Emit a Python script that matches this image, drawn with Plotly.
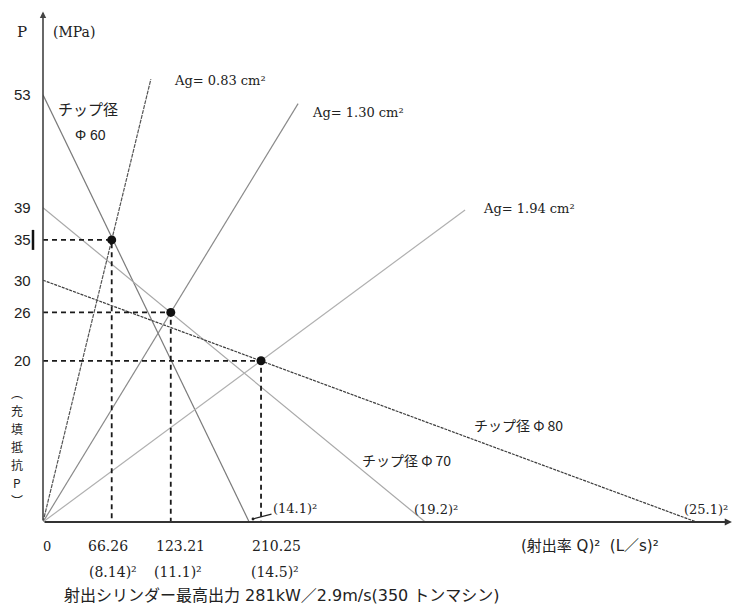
import plotly.graph_objects as go

# Filling resistance lines for each tip (plunger) diameter: P = P0 * (1 - Q^2 / Qmax^2)
tip_diameters = [60, 70, 80]
tip_p0 = [53, 39, 30]                 # MPa at Q = 0
tip_qmax_root = [14.1, 19.2, 25.1]    # Q at P = 0 (L/s)

# Gate-area lines through the origin and their operating points
gate_areas = [0.83, 1.30, 1.94]       # cm^2
op_q2 = [66.26, 123.21, 210.25]       # (L/s)^2
op_q_root = [8.14, 11.1, 14.5]
op_p = [35, 26, 20]                   # MPa
gate_line_end_q2 = [104, 246, 407]    # how far each gate line is drawn

y_tick_vals = [53, 39, 35, 30, 26, 20]

# Pixel geometry of the drawing
W, H = 741, 607
ML, MR, MT, MB = 43, 8, 10, 85
PW, PH = W - ML - MR, H - MT - MB
XS = 1.037   # px per (L/s)^2
YS = 8.06    # px per MPa
x_max = PW / XS
y_max = PH / YS


def paper(px, py):
    """Pixel position on the page -> paper coordinates."""
    return (px - ML) / PW, (H - MB - py) / PH


def py_of_p(p):
    return H - MB - p * YS


SERIF = "DejaVu Serif"
SANS = "Liberation Sans"
JP = "Noto Sans CJK JP"
MIXED = "DejaVu Sans, Noto Sans CJK JP"
INK = "#222222"

fig = go.Figure()

tip_styles = [
    dict(color="#7a7a7a", width=1.2),
    dict(color="#a8a8a8", width=1.2),
    dict(color="#3c3c3c", width=1.2, dash="3px,1px"),
]
for d, p0, qr, st in zip(tip_diameters, tip_p0, tip_qmax_root, tip_styles):
    fig.add_trace(go.Scatter(x=[0, qr ** 2], y=[p0, 0], mode="lines",
                             line=st, hoverinfo="skip", showlegend=False))

gate_styles = [
    dict(color="#555555", width=1.2, dash="4px,1px"),
    dict(color="#8a8a8a", width=1.2),
    dict(color="#b0b0b0", width=1.2),
]
for q2, p, xe, st in zip(op_q2, op_p, gate_line_end_q2, gate_styles):
    slope = p / q2
    fig.add_trace(go.Scatter(x=[0, xe], y=[0, slope * xe], mode="lines",
                             line=st, hoverinfo="skip", showlegend=False))

# dashed guides from the operating points to both axes
for q2, p in zip(op_q2, op_p):
    fig.add_trace(go.Scatter(x=[0, q2, q2], y=[p, p, 0], mode="lines",
                             line=dict(color="#1a1a1a", width=1.8, dash="5px,4px"),
                             hoverinfo="skip", showlegend=False))

fig.add_trace(go.Scatter(x=op_q2, y=op_p, mode="markers",
                         marker=dict(color="#111111", size=9),
                         hoverinfo="skip", showlegend=False))

ann = []

# axes drawn as arrows
ann.append(dict(x=0, y=y_max - 0.2, ax=0, ay=0, xref="x", yref="y", axref="x", ayref="y",
                showarrow=True, arrowhead=2, arrowsize=0.8, arrowwidth=1.6,
                arrowcolor="#444444", text=""))
ann.append(dict(x=x_max - 1, y=0, ax=0, ay=0, xref="x", yref="y", axref="x", ayref="y",
                showarrow=True, arrowhead=2, arrowsize=0.8, arrowwidth=1.8,
                arrowcolor="#333333", text=""))


def label(text, px, py, size=14, family=SERIF, xanchor="center", color=INK):
    x, y = paper(px, py)
    ann.append(dict(x=x, y=y, xref="paper", yref="paper", text=text, showarrow=False,
                    xanchor=xanchor, yanchor="middle",
                    font=dict(family=family, size=size, color=color)))


# y tick labels
for v in y_tick_vals:
    label(str(v), 22, py_of_p(v), size=15, family=SANS)

# x tick labels with their square roots
label("0", 47, 546, family=SERIF, size=13)
value_centres = [108, 180, 276]
root_centres = [113, 178, 275]
for q2, qr, cv, cr in zip(op_q2, op_q_root, value_centres, root_centres):
    label(f"{q2:.2f}", cv, 546, size=14)
    label(f"({qr})²", cr, 572, size=14)

label("P", 22, 32, size=15)
label("(MPa)", 74, 32, size=14)

# vertical axis title, one glyph per row
for i, ch in enumerate(["︵", "充", "填", "抵", "抗", "P", "︶"]):
    label(ch, 17, 392 + 18 * i, size=12, family=JP)

label("チップ径", 88, 108, size=15, family=JP)
label(f"Φ {tip_diameters[0]}", 90, 135, size=14, family=SANS)
label(f"チップ径 Φ {tip_diameters[1]}", 406, 460, size=14, family=JP)
label(f"チップ径 Φ {tip_diameters[2]}", 518, 425, size=14, family=JP)

label(f"({tip_qmax_root[1]})²", 436, 509, size=13)
label(f"({tip_qmax_root[2]})²", 706, 509, size=13)

# leader for the smallest tip's intercept
ann.append(dict(x=(253 - ML) / XS, y=(H - MB - 519) / YS, xref="x", yref="y",
                text=f"({tip_qmax_root[0]})²",
                showarrow=True, arrowhead=6, arrowsize=0.6, arrowwidth=1.2,
                arrowcolor=INK, ax=42, ay=-11, standoff=0,
                font=dict(family=SERIF, size=13, color=INK)))

label(f"Ag= {gate_areas[0]:.2f} cm²", 172, 80, size=13, xanchor="left")
label(f"Ag= {gate_areas[1]:.2f} cm²", 310, 112, size=13, xanchor="left")
label(f"Ag= {gate_areas[2]:.2f} cm²", 481, 208, size=13, xanchor="left")

label("(射出率 Q)²  (L／s)²", 590, 546, size=15, family=MIXED)
label("射出シリンダー最高出力 281kW／2.9m/s(350 トンマシン)", 62, 595, size=16,
      family=MIXED, xanchor="left")

# short bar next to the 35 label
bx, _ = paper(33, 0)
_, by0 = paper(0, py_of_p(op_p[0]) + 10)
_, by1 = paper(0, py_of_p(op_p[0]) - 10)
shapes = [dict(type="line", xref="paper", yref="paper", x0=bx, x1=bx, y0=by0, y1=by1,
               line=dict(color="#111111", width=2.5))]

fig.update_layout(
    width=W, height=H,
    margin=dict(l=ML, r=MR, t=MT, b=MB),
    paper_bgcolor="white", plot_bgcolor="white",
    xaxis=dict(range=[0, x_max], visible=False, fixedrange=True),
    yaxis=dict(range=[0, y_max], visible=False, fixedrange=True),
    annotations=ann, shapes=shapes,
)

fig.write_html("out.html")
